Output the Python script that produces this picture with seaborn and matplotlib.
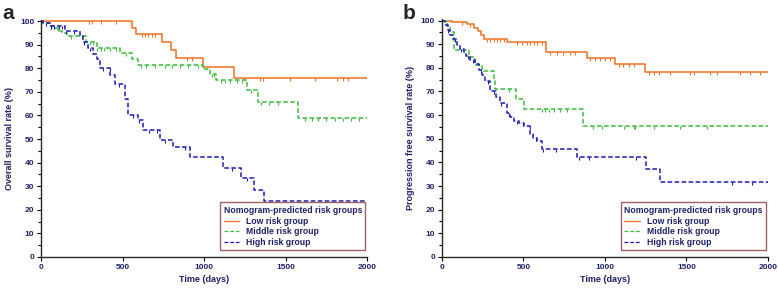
import numpy as np
import pandas as pd
import matplotlib
matplotlib.use("Agg")
import matplotlib.pyplot as plt
import seaborn as sns

# Data: step times (days) and survival (%) after each step
groups = ["Low risk group", "Middle risk group", "High risk group"]

a_low_t = [0, 559, 582, 740, 797, 828, 992, 1180]
a_low_s = [100, 97.2, 94.4, 91.3, 87.9, 84.5, 80.5, 75.9]
a_mid_t = [0, 12, 53, 84, 104, 125, 156, 275, 340, 484, 555, 596, 990, 1037, 1074, 1262, 1330, 1576]
a_mid_s = [100, 99, 98, 97, 96, 95, 93.5, 91, 88.5, 86.5, 84, 81.5, 79.5, 77.5, 75.2, 70.7, 65.7, 59.1]
a_high_t = [0, 12, 53, 145, 238, 258, 289, 320, 340, 360, 422, 453, 514, 535, 596, 627, 730, 811,
            914, 1115, 1225, 1307, 1365]
a_high_s = [100, 99, 98, 95.8, 93.5, 91, 88.7, 86, 84, 80, 77, 73.2, 67, 60.1, 58, 53.7, 49.5, 46.7,
            42.5, 37.9, 33.3, 28.4, 23.7]

b_low_t = [0, 61, 153, 194, 219, 239, 256, 399, 638, 890, 1063, 1248]
b_low_s = [100, 99.3, 98.5, 97, 95.5, 94, 92.3, 90.9, 86.7, 84.2, 81.8, 78.2]
b_mid_t = [0, 30, 51, 72, 164, 200, 245, 321, 327, 456, 501, 863]
b_mid_s = [100, 97.5, 95, 87.7, 84.5, 81.3, 78.5, 74.8, 71.2, 66.9, 62.4, 55.3]
b_high_t = [0, 20, 35, 51, 70, 92, 110, 133, 150, 174, 200, 225, 245, 266, 297, 330, 358, 399, 420,
            440, 470, 501, 542, 560, 583, 614, 830, 1250, 1340]
b_high_s = [100, 98.2, 96, 94, 92, 89.8, 88, 86.3, 85, 83.5, 81.5, 79.2, 77, 74.3, 70.1, 67.5, 65.2,
            61, 59, 57.5, 56.5, 55.4, 51.9, 50.5, 49.1, 45.6, 42.1, 37.2, 31.8]

# censored times (days)
a_low_c = [295, 310, 367, 459, 617, 637, 658, 678, 700, 896, 926, 1252, 1344, 1359, 1527, 1681,
           1816, 1853, 1884]
a_mid_c = [60, 100, 180, 250, 300, 320, 345, 365, 385, 420, 460, 520, 610, 640, 700, 760, 800, 850,
           900, 960, 1045, 1060, 1100, 1130, 1160, 1200, 1230, 1290, 1350, 1400, 1450, 1620, 1660,
           1700, 1750, 1800, 1850, 1900, 1950]
a_high_c = [30, 60, 80, 110, 130, 150, 200, 260, 300, 380, 420, 480, 560, 600, 660, 710, 760, 880,
            1170, 1260, 1740, 1780]
b_low_c = [123, 174, 276, 296, 317, 337, 357, 378, 460, 491, 521, 542, 562, 583, 613, 665, 705,
           746, 787, 818, 910, 941, 971, 1002, 1033, 1084, 1114, 1145, 1176, 1268, 1299, 1329,
           1401, 1524, 1544, 1646, 1687, 1830, 1892, 1953]
b_mid_c = [410, 614, 634, 654, 685, 726, 767, 930, 981, 1115, 1176, 1186, 1299, 1462, 1626]
b_high_c = [40, 80, 120, 160, 190, 240, 280, 320, 360, 410, 460, 500, 540, 580, 620, 700, 840, 900,
            1190, 1780, 1900]

colors = ["#F07022", "#3DBA3D", "#1C1CB4"]
styles = ["-", (0, (3, 1.6)), (0, (3, 1.6))]
navy = "#1E2166"

panels = [
    ("a", "Overall survival rate (%)",
     [(a_low_t, a_low_s, a_low_c), (a_mid_t, a_mid_s, a_mid_c), (a_high_t, a_high_s, a_high_c)]),
    ("b", "Progression free survival rate (%)",
     [(b_low_t, b_low_s, b_low_c), (b_mid_t, b_mid_s, b_mid_c), (b_high_t, b_high_s, b_high_c)]),
]

sns.set_style("ticks")
plt.rcParams["font.family"] = ["Liberation Sans", "DejaVu Sans"]

fig = plt.figure(figsize=(7.78, 2.89), dpi=100)
ax_pos = [[0.053, 0.111, 0.419, 0.820], [0.568, 0.111, 0.419, 0.822]]

for (letter, ylabel, curves), pos in zip(panels, ax_pos):
    ax = fig.add_axes(pos)
    for (t, s, c), name, col, ls in zip(curves, groups, colors, styles):
        df = pd.DataFrame({"t": t + [2000], "s": s + [s[-1]]})
        sns.lineplot(data=df, x="t", y="s", drawstyle="steps-post", color=col, linestyle=ls,
                     linewidth=1.1, label=name, ax=ax, estimator=None)
        # censor marks, hanging down from the curve
        idx = np.searchsorted(t, c, side="right") - 1
        ax.plot(c, np.array(s)[idx], linestyle="none", marker=3, markersize=2.5,
                markeredgewidth=0.8, color=col)

    ax.set_xlim(0, 2000)
    ax.set_ylim(0, 100.5)
    ax.set_xticks([0, 500, 1000, 1500, 2000])
    ax.set_yticks(range(0, 101, 10))
    ax.set_yticks(range(5, 100, 10), minor=True)
    ax.tick_params(axis="both", which="both", direction="out", length=3, width=0.8,
                   labelsize=6, labelcolor=navy, color="black", pad=2)
    ax.tick_params(axis="y", which="minor", length=2)
    for lab in ax.get_xticklabels() + ax.get_yticklabels():
        lab.set_fontweight("bold")
    for sp in ["top", "right"]:
        ax.spines[sp].set_visible(False)
    for sp in ["left", "bottom"]:
        ax.spines[sp].set_linewidth(1.0)
    ax.set_xlabel("Time (days)", fontsize=6.5, fontweight="bold", color=navy, labelpad=3)
    ax.set_ylabel(ylabel, fontsize=6.5, fontweight="bold", color=navy, labelpad=4)

    leg = ax.legend(title="Nomogram-predicted risk groups", loc="lower right",
                    bbox_to_anchor=(1.0, 0.02), fontsize=6.2, title_fontsize=6.2,
                    frameon=True, fancybox=False, framealpha=1, edgecolor="#9C6464",
                    handlelength=1.8, handletextpad=0.8, borderpad=0.4, labelspacing=0.2,
                    alignment="left", borderaxespad=0.2)
    leg.get_frame().set_linewidth(1.0)
    leg.get_title().set_fontweight("bold")
    leg.get_title().set_color(navy)
    for txt in leg.get_texts():
        txt.set_fontweight("bold")
        txt.set_color(navy)
    for h in leg.get_lines():
        h.set_linewidth(0.9)

    fig.text(pos[0] - 0.05, 0.985, letter, fontsize=15, fontweight="bold", va="top", ha="left")

fig.savefig("out.png", dpi=100)
